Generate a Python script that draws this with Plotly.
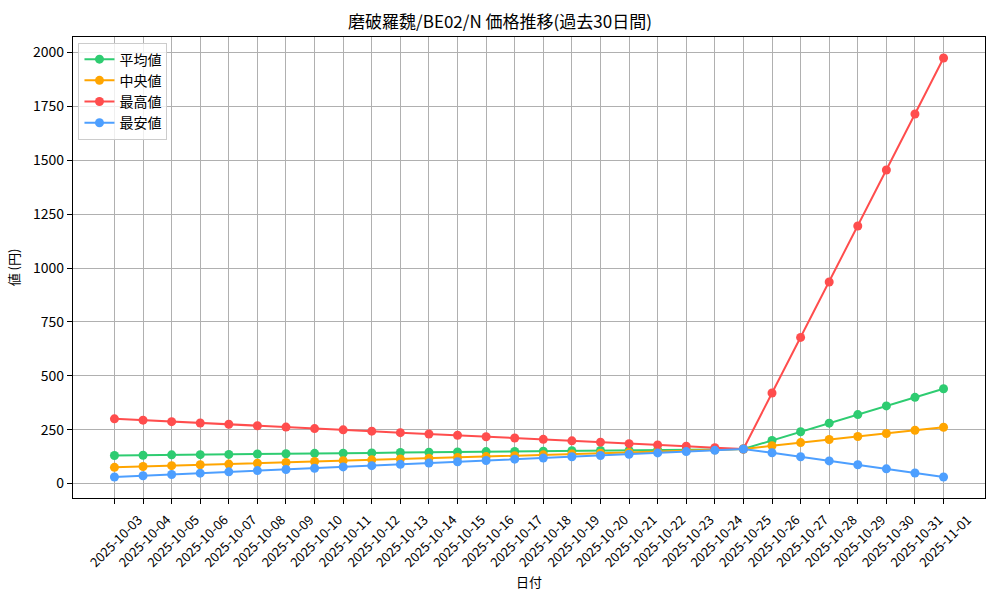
import plotly.graph_objects as go

dates = ["2025-10-03", "2025-10-04", "2025-10-05", "2025-10-06", "2025-10-07",
         "2025-10-08", "2025-10-09", "2025-10-10", "2025-10-11", "2025-10-12",
         "2025-10-13", "2025-10-14", "2025-10-15", "2025-10-16", "2025-10-17",
         "2025-10-18", "2025-10-19", "2025-10-20", "2025-10-21", "2025-10-22",
         "2025-10-23", "2025-10-24", "2025-10-25", "2025-10-26", "2025-10-27",
         "2025-10-28", "2025-10-29", "2025-10-30", "2025-10-31", "2025-11-01"]

avg_vals = [130, 131, 133, 134, 135, 137, 138, 140, 141, 142, 144, 145, 146, 148, 149,
            150, 152, 153, 154, 156, 157, 158, 160, 200, 240, 280, 320, 360, 400, 440]
median_vals = [75, 79, 83, 87, 90, 94, 98, 102, 106, 110, 114, 117, 121, 125, 129,
               133, 137, 141, 144, 148, 152, 156, 160, 175, 190, 204, 218, 232, 247, 261]
max_vals = [300, 294, 287, 281, 275, 268, 262, 255, 249, 243, 236, 230, 224, 217, 211,
            205, 198, 192, 185, 179, 173, 166, 160, 420, 678, 935, 1195, 1455, 1715, 1975]
min_vals = [30, 36, 42, 48, 54, 60, 65, 71, 77, 83, 89, 95, 101, 107, 113,
            118, 124, 130, 136, 142, 148, 154, 160, 143, 124, 105, 87, 68, 49, 30]

series_names = ["平均値", "中央値", "最高値", "最安値"]
series_colors = ["#2ecc71", "#ffa500", "#ff4d4d", "#4d9fff"]
series_vals = [avg_vals, median_vals, max_vals, min_vals]

FONT = "Noto Sans CJK JP, Noto Sans, DejaVu Sans"

fig = go.Figure()
x_idx = list(range(len(dates)))
for name, color, vals in zip(series_names, series_colors, series_vals):
    fig.add_trace(go.Scatter(
        x=x_idx, y=vals, name=name, mode="lines+markers",
        line=dict(color=color, width=2),
        marker=dict(color=color, size=9),
    ))

n = len(dates)
ymin = min(min(v) for v in series_vals)
ymax = max(max(v) for v in series_vals)
pad = (ymax - ymin) * 0.05

fig.update_layout(
    width=1000, height=600,
    margin=dict(l=73, r=15, t=37, b=102),
    paper_bgcolor="white", plot_bgcolor="white",
    font=dict(family=FONT, size=13, color="black"),
    title=dict(text="磨破羅魏/BE02/N 価格推移(過去30日間)", x=0.5, xanchor="center",
               y=1 - 22 / 600, yanchor="middle", font=dict(size=17, family=FONT)),
    showlegend=True,
    legend=dict(x=0.006, y=0.988, xanchor="left", yanchor="top",
                bgcolor="rgba(255,255,255,0.8)", bordercolor="#cccccc", borderwidth=1,
                font=dict(size=14, family=FONT), tracegroupgap=0),
    xaxis=dict(
        range=[-1.45, n - 1 + 1.45],
        tickmode="array", tickvals=x_idx, ticktext=dates, tickangle=-45,
        ticklabelshift=24, ticklabelstandoff=3,
        showgrid=True, gridcolor="#b0b0b0", gridwidth=1,
        showline=True, linecolor="black", linewidth=1.2, mirror=True,
        ticks="outside", ticklen=5, tickcolor="black",
        zeroline=False,
        tickfont=dict(size=13, family=FONT),
    ),
    yaxis=dict(
        range=[ymin - pad, ymax + pad],
        tickmode="array", tickvals=[0, 250, 500, 750, 1000, 1250, 1500, 1750, 2000],
        showgrid=True, gridcolor="#b0b0b0", gridwidth=1,
        showline=True, linecolor="black", linewidth=1.2, mirror=True,
        ticks="outside", ticklen=5, tickcolor="black",
        zeroline=False,
        tickfont=dict(size=14, family=FONT),
        title=dict(text="値 (円)", font=dict(size=13, family=FONT), standoff=10),
    ),
    annotations=[dict(text="日付", xref="paper", yref="paper", x=0.5, y=-0.182,
                      xanchor="center", yanchor="middle", showarrow=False,
                      font=dict(size=13, family=FONT))],
)

fig.write_html("out.html", config={"displayModeBar": False},
               post_script="document.body.style.margin='0';")
